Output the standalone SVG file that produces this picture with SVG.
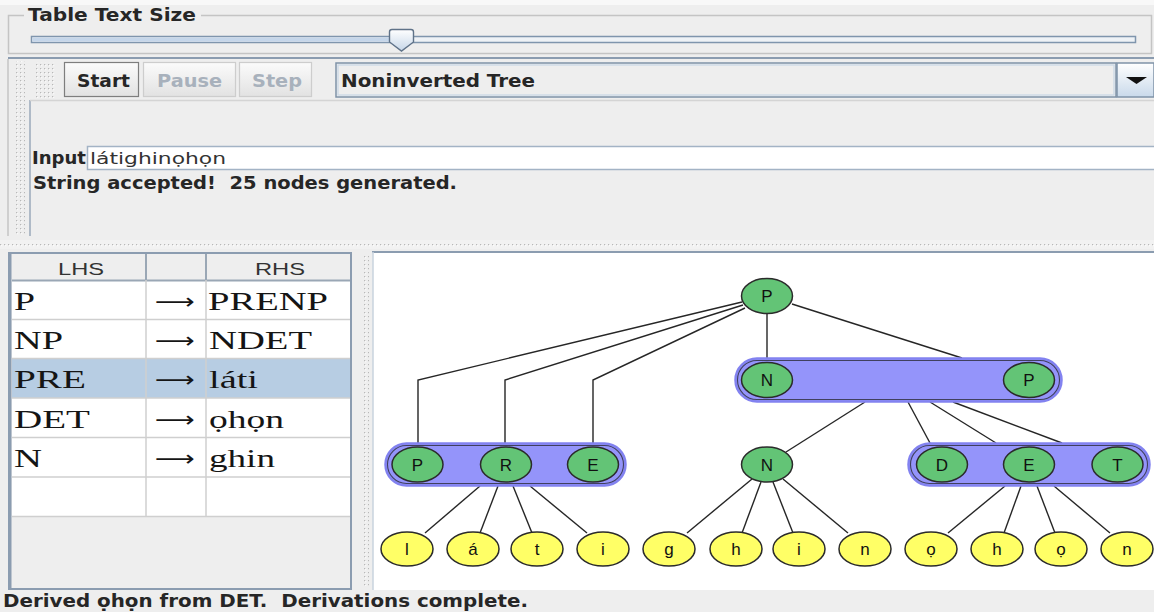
<svg xmlns="http://www.w3.org/2000/svg" width="1154" height="612" viewBox="0 0 1154 612">
<style>
  text{white-space:pre}
  .ui{font-family:"DejaVu Sans","Liberation Sans",sans-serif;font-weight:bold;font-size:17.5px;fill:#262626}
  .dim{fill:#a8b1bc}
  .plain{font-family:"DejaVu Sans","Liberation Sans",sans-serif;font-size:16px;fill:#333}
  .hdr{font-family:"Liberation Sans",sans-serif;font-size:16px;fill:#333}
  .cell{font-family:"Liberation Serif","DejaVu Serif",serif;font-size:25px;fill:#151515}
  .arrow{font-family:"DejaVu Sans","Liberation Sans",sans-serif;font-size:22px;fill:#151515}
  .lbl{font-family:"Liberation Sans",sans-serif;font-size:17px;fill:#111;text-anchor:middle}
  .edge{stroke:#262626;stroke-width:1.4;fill:none}
  .inner{fill:#63c476;stroke:#2b2b2b;stroke-width:1.5}
  .leaf{fill:#ffff66;stroke:#2b2b2b;stroke-width:1.5}
  .bar{fill:#9494fa;stroke:#8282f0;stroke-width:2.5}
  .barline{fill:none;stroke:#40405e;stroke-width:1.1}
  .frame{fill:none;stroke:#8b9cb0;stroke-width:2}
  .grid{stroke:#cfcfcf;stroke-width:1.5}
</style>
<defs>
  <pattern id="bumps" width="4" height="4" patternUnits="userSpaceOnUse">
    <rect x="0" y="0" width="1.2" height="1.2" fill="#b8b8b8"/>
    <rect x="1.2" y="1.2" width="1" height="1" fill="#ffffff"/>
  </pattern>
  <linearGradient id="btn" x1="0" y1="0" x2="0" y2="1">
    <stop offset="0" stop-color="#fbfbfb"/>
    <stop offset="1" stop-color="#e2e2e2"/>
  </linearGradient>
  <linearGradient id="thumb" x1="0" y1="0" x2="0" y2="1">
    <stop offset="0" stop-color="#ffffff"/>
    <stop offset="1" stop-color="#c6d6e8"/>
  </linearGradient>
  <linearGradient id="drop" x1="0" y1="0" x2="0" y2="1">
    <stop offset="0" stop-color="#ffffff"/>
    <stop offset="1" stop-color="#c9d9ea"/>
  </linearGradient>
</defs>

<!-- window background -->
<rect x="0" y="0" width="1154" height="612" fill="#eeeeee"/>
<rect x="0" y="0" width="1154" height="5" fill="#f8f8f8"/>

<!-- text size slider -->
<g id="text-size-slider">
  <rect x="8.5" y="15.5" width="1143" height="38" fill="none" stroke="#c4c4c4" stroke-width="1.5"/>
  <rect x="24" y="8" width="177" height="18" fill="#eeeeee"/>
  <text class="ui" x="28" y="21" textLength="168" lengthAdjust="spacingAndGlyphs">Table Text Size</text>
  <rect x="31.5" y="36.5" width="1104" height="6" fill="#eef2f6" stroke="#7f95ad" stroke-width="1.5"/>
  <rect x="32.5" y="37.5" width="369" height="4" fill="#c5d6ea"/>
  <path d="M389.5,32 Q389.5,29.5 392,29.5 L411,29.5 Q413.5,29.5 413.5,32 L413.5,42 L401.5,51 L389.5,42 Z" fill="url(#thumb)" stroke="#5f7288" stroke-width="1.4"/>
</g>

<!-- upper control panel -->
<g id="control-panel">
  <line x1="8" y1="58" x2="1154" y2="58" stroke="#8b9cb0" stroke-width="2"/>
  <line x1="8" y1="59" x2="8" y2="236" stroke="#c4c4c4" stroke-width="1.5"/>
  <rect x="16" y="61" width="9" height="175" fill="url(#bumps)"/>
  <line x1="30" y1="100" x2="30" y2="236" stroke="#9aa9ba" stroke-width="1.5"/>
  <line x1="30" y1="100.5" x2="1154" y2="100.5" stroke="#d4d4d4" stroke-width="1.5"/>
  <rect x="36" y="62" width="19" height="36" fill="url(#bumps)"/>

  <rect x="64.5" y="62.5" width="74" height="34" fill="url(#btn)" stroke="#7e7e7e" stroke-width="1.2"/>
  <text class="ui" x="77" y="87" textLength="53" lengthAdjust="spacingAndGlyphs">Start</text>
  <rect x="143.5" y="62.5" width="92" height="34" fill="url(#btn)" stroke="#cdcdcd" stroke-width="1.2"/>
  <text class="ui dim" x="157" y="87" textLength="65" lengthAdjust="spacingAndGlyphs">Pause</text>
  <rect x="239.5" y="62.5" width="72" height="34" fill="url(#btn)" stroke="#cdcdcd" stroke-width="1.2"/>
  <text class="ui dim" x="252" y="87" textLength="50" lengthAdjust="spacingAndGlyphs">Step</text>

  <rect x="336" y="63" width="780" height="34" fill="#eeeeee" stroke="#7f93a8" stroke-width="1.5"/>
  <rect x="338" y="65" width="776" height="30" fill="none" stroke="#c9d7e6" stroke-width="1.2"/>
  <text class="ui" x="341" y="87" textLength="194" lengthAdjust="spacingAndGlyphs">Noninverted Tree</text>
  <rect x="1117" y="63" width="37" height="34" fill="url(#drop)" stroke="#7f93a8" stroke-width="1.5"/>
  <path d="M1126,77 L1147,77 L1136.5,84 Z" fill="#111"/>

  <text class="ui" x="32" y="164" textLength="54" lengthAdjust="spacingAndGlyphs">Input</text>
  <rect x="87.5" y="146.5" width="1068" height="23" fill="#ffffff" stroke="#a3b3c5" stroke-width="1.5"/>
  <text class="plain" x="90" y="164" textLength="136" lengthAdjust="spacingAndGlyphs">látighinọhọn</text>
  <text class="ui" x="33" y="189" textLength="424" lengthAdjust="spacingAndGlyphs">String accepted!  25 nodes generated.</text>
</g>

<!-- splitters -->
<rect x="0" y="240" width="1154" height="9" fill="#f2f2f2"/>
<rect x="0" y="243" width="1154" height="4" fill="url(#bumps)"/>
<rect x="356" y="253" width="16" height="337" fill="#eeeeee"/>
<rect x="364" y="256" width="5" height="330" fill="url(#bumps)"/>

<!-- grammar table -->
<g id="grammar-table">
  <rect x="9" y="253" width="343" height="336" fill="#eeeeee"/>
  <rect x="12" y="254" width="338" height="26" fill="#eeeeee"/>
  <rect x="12" y="280.5" width="338" height="236" fill="#ffffff"/>
  <rect x="12" y="358.5" width="338" height="39.5" fill="#b7cde3"/>
  <g class="grid">
    <line x1="12" y1="280.5" x2="350" y2="280.5" stroke="#9aa7b5" stroke-width="2"/>
    <line x1="12" y1="319.5" x2="350" y2="319.5"/>
    <line x1="12" y1="358.5" x2="350" y2="358.5"/>
    <line x1="12" y1="398" x2="350" y2="398"/>
    <line x1="12" y1="437.5" x2="350" y2="437.5"/>
    <line x1="12" y1="477" x2="350" y2="477"/>
    <line x1="12" y1="516.5" x2="350" y2="516.5"/>
    <line x1="146" y1="254" x2="146" y2="516.5"/>
    <line x1="206" y1="254" x2="206" y2="516.5"/>
  </g>
  <line x1="146" y1="254" x2="146" y2="280" stroke="#9aa7b5" stroke-width="2"/>
  <line x1="206" y1="254" x2="206" y2="280" stroke="#9aa7b5" stroke-width="2"/>
  <text class="hdr" x="58" y="275" textLength="46" lengthAdjust="spacingAndGlyphs">LHS</text>
  <text class="hdr" x="255" y="275" textLength="50" lengthAdjust="spacingAndGlyphs">RHS</text>

  <text class="cell" x="14" y="310" textLength="21" lengthAdjust="spacingAndGlyphs">P</text>
  <text class="arrow" x="155" y="309" textLength="40" lengthAdjust="spacingAndGlyphs">⟶</text>
  <text class="cell" x="208" y="310" textLength="120" lengthAdjust="spacingAndGlyphs">PRENP</text>

  <text class="cell" x="14" y="349" textLength="49" lengthAdjust="spacingAndGlyphs">NP</text>
  <text class="arrow" x="155" y="348" textLength="40" lengthAdjust="spacingAndGlyphs">⟶</text>
  <text class="cell" x="209" y="349" textLength="103" lengthAdjust="spacingAndGlyphs">NDET</text>

  <text class="cell" x="14" y="388" textLength="72" lengthAdjust="spacingAndGlyphs">PRE</text>
  <text class="arrow" x="155" y="387" textLength="40" lengthAdjust="spacingAndGlyphs">⟶</text>
  <text class="cell" x="209" y="388" textLength="49" lengthAdjust="spacingAndGlyphs">láti</text>

  <text class="cell" x="14" y="428" textLength="76" lengthAdjust="spacingAndGlyphs">DET</text>
  <text class="arrow" x="155" y="427" textLength="40" lengthAdjust="spacingAndGlyphs">⟶</text>
  <text class="cell" x="209" y="428" textLength="75" lengthAdjust="spacingAndGlyphs">ọhọn</text>

  <text class="cell" x="14" y="467" textLength="28" lengthAdjust="spacingAndGlyphs">N</text>
  <text class="arrow" x="155" y="466" textLength="40" lengthAdjust="spacingAndGlyphs">⟶</text>
  <text class="cell" x="209" y="467" textLength="66" lengthAdjust="spacingAndGlyphs">ghin</text>

  <rect x="9" y="253" width="342" height="336" class="frame"/>
  <line x1="10" y1="253" x2="10" y2="589" stroke="#8b9cb0" stroke-width="3"/>
</g>

<!-- derivation tree canvas -->
<rect x="373" y="253" width="781" height="337" fill="#ffffff"/>
<line x1="372" y1="252" x2="1154" y2="252" stroke="#8b9cb0" stroke-width="2"/>
<line x1="373" y1="252" x2="373" y2="590" stroke="#c9d3de" stroke-width="1.5"/>

<g id="connectors">
  <polyline class="edge" points="742,302 418,380 418,443"/>
  <polyline class="edge" points="743,305 505,380 505,443"/>
  <polyline class="edge" points="745,308 593,380 593,443"/>
  <line class="edge" x1="767" y1="313.5" x2="767" y2="358"/>
  <line class="edge" x1="792" y1="304" x2="962" y2="358"/>
  <line class="edge" x1="865" y1="402" x2="786" y2="452"/>
  <line class="edge" x1="908" y1="402" x2="930" y2="443"/>
  <line class="edge" x1="930" y1="402" x2="996" y2="443"/>
  <line class="edge" x1="953" y1="402" x2="1062" y2="443"/>
  <line class="edge" x1="480" y1="486" x2="425" y2="533"/>
  <line class="edge" x1="498" y1="486" x2="480" y2="533"/>
  <line class="edge" x1="513" y1="486" x2="532" y2="533"/>
  <line class="edge" x1="530" y1="486" x2="587" y2="533"/>
  <line class="edge" x1="752" y1="479" x2="687" y2="533"/>
  <line class="edge" x1="761" y1="482" x2="742" y2="533"/>
  <line class="edge" x1="773" y1="482" x2="793" y2="533"/>
  <line class="edge" x1="783" y1="479" x2="848" y2="533"/>
  <line class="edge" x1="1005" y1="486" x2="948" y2="533"/>
  <line class="edge" x1="1021" y1="486" x2="1004" y2="533"/>
  <line class="edge" x1="1037" y1="486" x2="1055" y2="533"/>
  <line class="edge" x1="1054" y1="486" x2="1110" y2="533"/>
</g>

<g id="node-root-P">
  <ellipse class="inner" cx="767" cy="296" rx="25.5" ry="17.5"/>
  <text class="lbl" x="767" y="302">P</text>
</g>

<g id="node-NP">
  <rect class="bar" x="735.5" y="358.5" width="326" height="43" rx="21.5"/>
  <rect class="barline" x="737.5" y="360.5" width="322" height="39" rx="19.5"/>
  <ellipse class="inner" cx="767" cy="380" rx="25.5" ry="17.5"/>
  <text class="lbl" x="767" y="386">N</text>
  <ellipse class="inner" cx="1029" cy="380" rx="25.5" ry="17.5"/>
  <text class="lbl" x="1029" y="386">P</text>
</g>

<g id="node-PRE">
  <rect class="bar" x="385.5" y="443.5" width="240" height="42" rx="21"/>
  <rect class="barline" x="387.5" y="445.5" width="236" height="38" rx="19"/>
  <ellipse class="inner" cx="417.5" cy="464.5" rx="25.5" ry="17.5"/>
  <text class="lbl" x="417.5" y="470.5">P</text>
  <ellipse class="inner" cx="506" cy="464.5" rx="25.5" ry="17.5"/>
  <text class="lbl" x="506" y="470.5">R</text>
  <ellipse class="inner" cx="593" cy="464.5" rx="25.5" ry="17.5"/>
  <text class="lbl" x="593" y="470.5">E</text>
</g>

<g id="node-N">
  <ellipse class="inner" cx="767" cy="464.5" rx="25.5" ry="17.5"/>
  <text class="lbl" x="767" y="470.5">N</text>
</g>

<g id="node-DET">
  <rect class="bar" x="908.5" y="443.5" width="241" height="42" rx="21"/>
  <rect class="barline" x="910.5" y="445.5" width="237" height="38" rx="19"/>
  <ellipse class="inner" cx="942" cy="464.5" rx="25.5" ry="17.5"/>
  <text class="lbl" x="942" y="470.5">D</text>
  <ellipse class="inner" cx="1029" cy="464.5" rx="25.5" ry="17.5"/>
  <text class="lbl" x="1029" y="470.5">E</text>
  <ellipse class="inner" cx="1117.5" cy="464.5" rx="25.5" ry="17.5"/>
  <text class="lbl" x="1117.5" y="470.5">T</text>
</g>

<g id="leaf-1"><ellipse class="leaf" cx="407" cy="549" rx="26" ry="17"/><text class="lbl" x="407" y="555">l</text></g>
<g id="leaf-2"><ellipse class="leaf" cx="473" cy="549" rx="26" ry="17"/><text class="lbl" x="473" y="555">á</text></g>
<g id="leaf-3"><ellipse class="leaf" cx="537" cy="549" rx="26" ry="17"/><text class="lbl" x="537" y="555">t</text></g>
<g id="leaf-4"><ellipse class="leaf" cx="603" cy="549" rx="26" ry="17"/><text class="lbl" x="603" y="555">i</text></g>
<g id="leaf-5"><ellipse class="leaf" cx="669" cy="549" rx="26" ry="17"/><text class="lbl" x="669" y="555">g</text></g>
<g id="leaf-6"><ellipse class="leaf" cx="736" cy="549" rx="26" ry="17"/><text class="lbl" x="736" y="555">h</text></g>
<g id="leaf-7"><ellipse class="leaf" cx="799" cy="549" rx="26" ry="17"/><text class="lbl" x="799" y="555">i</text></g>
<g id="leaf-8"><ellipse class="leaf" cx="865" cy="549" rx="26" ry="17"/><text class="lbl" x="865" y="555">n</text></g>
<g id="leaf-9"><ellipse class="leaf" cx="931" cy="549" rx="26" ry="17"/><text class="lbl" x="931" y="555">ọ</text></g>
<g id="leaf-10"><ellipse class="leaf" cx="997" cy="549" rx="26" ry="17"/><text class="lbl" x="997" y="555">h</text></g>
<g id="leaf-11"><ellipse class="leaf" cx="1061" cy="549" rx="26" ry="17"/><text class="lbl" x="1061" y="555">ọ</text></g>
<g id="leaf-12"><ellipse class="leaf" cx="1127" cy="549" rx="26" ry="17"/><text class="lbl" x="1127" y="555">n</text></g>

<!-- status line -->
<rect x="0" y="590" width="1154" height="22" fill="#eeeeee"/>
<text class="ui" x="3" y="607" textLength="525" lengthAdjust="spacingAndGlyphs">Derived ọhọn from DET.  Derivations complete.</text>
</svg>
